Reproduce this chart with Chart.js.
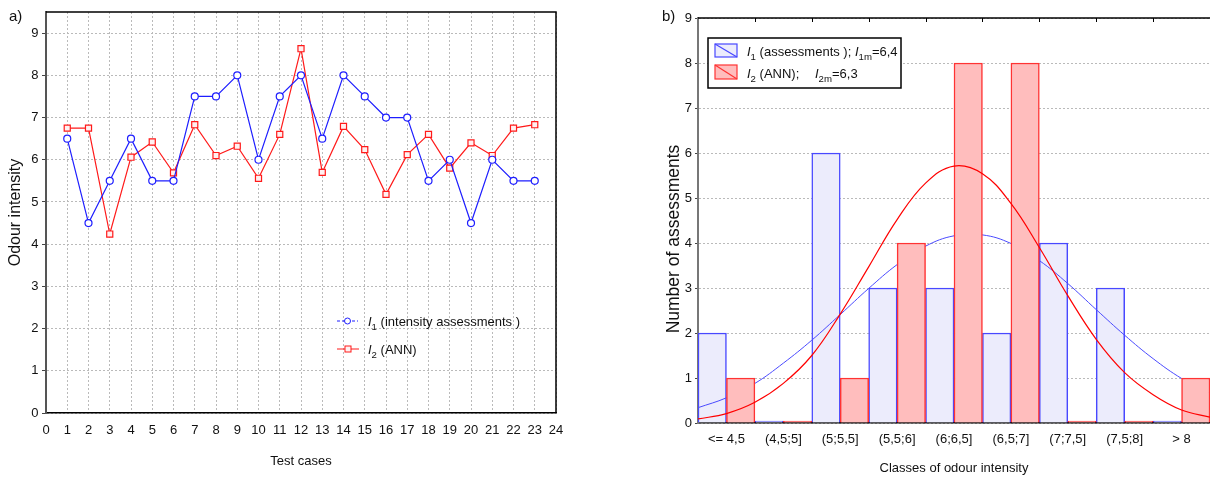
<!DOCTYPE html>
<html><head><meta charset="utf-8">
<script src="https://cdn.jsdelivr.net/npm/chart.js@4.4.1/dist/chart.umd.min.js"></script>
<style>
html,body{margin:0;padding:0;background:#fff;overflow:hidden;}
#wrap{position:relative;width:1210px;height:480px;background:#fff;}
#c1{position:absolute;left:0;top:0;}
#c2{position:absolute;left:600px;top:0;}
</style></head><body>
<div id="wrap"><canvas id="c1" width="600" height="480"></canvas><canvas id="c2" width="610" height="480"></canvas></div>
<script>
// ---------- data: panel a) ----------
const TEST_CASES = [1,2,3,4,5,6,7,8,9,10,11,12,13,14,15,16,17,18,19,20,21,22,23];
const I1_VALUES = [6.5,4.5,5.5,6.5,5.5,5.5,7.5,7.5,8,6,7.5,8,6.5,8,7.5,7,7,5.5,6,4.5,6,5.5,5.5];
const I2_VALUES = [6.75,6.75,4.24,6.06,6.42,5.69,6.83,6.1,6.32,5.56,6.6,8.63,5.7,6.79,6.24,5.18,6.12,6.6,5.8,6.4,6.1,6.75,6.83];
// ---------- data: panel b) ----------
const CLASSES = ['<= 4,5','(4,5;5]','(5;5,5]','(5,5;6]','(6;6,5]','(6,5;7]','(7;7,5]','(7,5;8]','> 8'];
const I1_COUNTS = [2,0,6,3,3,2,4,3,0];
const I2_COUNTS = [1,0,1,4,8,8,0,0,1];
const CURVE_X = [4,4.25,4.5,4.75,5,5.25,5.5,5.75,6,6.25,6.5,6.75,7,7.25,7.5,7.75,8,8.25,8.5];
const I1_FIT = [0.34,0.56,0.88,1.33,1.84,2.41,2.99,3.52,3.93,4.16,4.18,3.99,3.61,3.10,2.52,1.95,1.43,0.99,0.66];
const I2_FIT = [0.09,0.21,0.46,0.88,1.50,2.42,3.47,4.52,5.33,5.71,5.54,4.88,3.90,2.83,1.86,1.12,0.63,0.29,0.13];
const I1_MEAN = '6,4';
const I2_MEAN = '6,3';

const FONT = "'Liberation Sans', Arial, sans-serif";
Chart.defaults.font.family = FONT;
Chart.defaults.color = '#111';
const GRID = '#bababa';
const BLUE = '#1e1eff', RED = '#ff1a1a';

function drawRich(ctx, x, y, parts, size) {
  ctx.save();
  ctx.textBaseline = 'alphabetic'; ctx.textAlign = 'left'; ctx.fillStyle = '#111';
  for (const p of parts) {
    const s = p.sub ? size * 0.74 : size;
    ctx.font = (p.i ? 'italic ' : '') + s + 'px ' + FONT;
    ctx.fillText(p.t, x, y + (p.sub ? size * 0.32 : 0));
    x += ctx.measureText(p.t).width;
  }
  ctx.restore();
  return x;
}

// ---------- panel a) ----------
const frameA = {
  id: 'frameA',
  afterDraw(chart) {
    const {ctx, chartArea: a} = chart;
    ctx.save();
    ctx.strokeStyle = '#000'; ctx.lineWidth = 1.5;
    ctx.beginPath();
    ctx.moveTo(a.left, a.top); ctx.lineTo(a.right, a.top); ctx.lineTo(a.right, a.bottom);
    ctx.stroke();
    // panel label
    ctx.font = '15px ' + FONT; ctx.fillStyle = '#111'; ctx.textBaseline = 'alphabetic';
    ctx.fillText('a)', 9, 21);
    // legend
    const y1 = 321, y2 = 349;
    ctx.lineWidth = 1;
    ctx.strokeStyle = BLUE; ctx.setLineDash([3, 2]);
    ctx.beginPath(); ctx.moveTo(337, y1); ctx.lineTo(358, y1); ctx.stroke();
    ctx.setLineDash([]);
    ctx.fillStyle = '#fff';
    ctx.beginPath(); ctx.arc(347.5, y1, 3, 0, Math.PI * 2); ctx.fill(); ctx.stroke();
    ctx.strokeStyle = RED;
    ctx.beginPath(); ctx.moveTo(337, y2); ctx.lineTo(359, y2); ctx.stroke();
    ctx.fillStyle = '#fff0f0';
    ctx.fillRect(345, y2 - 3, 6, 6); ctx.strokeRect(345, y2 - 3, 6, 6);
    ctx.restore();
    drawRich(ctx, 368, y1 + 4.5, [{t: 'I', i: 1}, {t: '1', sub: 1}, {t: ' (intensity assessments )'}], 13);
    drawRich(ctx, 368, y2 + 4.5, [{t: 'I', i: 1}, {t: '2', sub: 1}, {t: ' (ANN)'}], 13);
  }
};

new Chart(document.getElementById('c1'), {
  type: 'line',
  data: {
    datasets: [
      {label: 'I1 (intensity assessments )', data: TEST_CASES.map((x, i) => ({x, y: I1_VALUES[i]})),
       borderColor: BLUE, borderWidth: 1.2, pointStyle: 'circle', pointRadius: 3.5,
       pointBackgroundColor: '#fff', pointBorderColor: BLUE, pointBorderWidth: 1.2, tension: 0},
      {label: 'I2 (ANN)', data: TEST_CASES.map((x, i) => ({x, y: I2_VALUES[i]})),
       borderColor: RED, borderWidth: 1.2, pointStyle: 'rect', pointRadius: 4.3,
       pointBackgroundColor: '#fff0f0', pointBorderColor: RED, pointBorderWidth: 1.2, tension: 0}
    ]
  },
  options: {
    responsive: false, animation: false, devicePixelRatio: 1,
    layout: {padding: {top: 12, right: 44, left: 0, bottom: 0}},
    plugins: {legend: {display: false}, tooltip: {enabled: false}},
    scales: {
      x: {type: 'linear', min: 0, max: 24,
          afterFit(s) { s.height = 67; },
          ticks: {stepSize: 1, autoSkip: false, maxRotation: 0, padding: 10, font: {size: 13}},
          grid: {color: GRID, drawTicks: false},
          border: {color: '#000', width: 1.5, dash: [2, 2]},
          title: {display: true, text: 'Test cases', font: {size: 13}, padding: {top: 0, bottom: 11}}},
      y: {min: 0, max: 9.5,
          afterFit(s) { s.width = 46; },
          ticks: {stepSize: 1, includeBounds: false, padding: 3.5, font: {size: 13}},
          grid: {color: GRID, tickColor: '#444', tickLength: 4},
          border: {color: '#555', width: 2, dash: [2, 2]},
          title: {display: true, text: 'Odour intensity', font: {size: 16}, padding: {top: 6, bottom: 0}}}
    }
  },
  plugins: [frameA]
});

// ---------- panel b) ----------
const layerB = {
  id: 'layerB',
  beforeDatasetDraw() { return false; },
  afterDatasetsDraw(chart) {
    const {ctx, chartArea: a} = chart;
    for (const i of [0, 2, 1, 3]) {
      ctx.save();
      ctx.beginPath(); ctx.rect(a.left, a.top, a.right - a.left, a.bottom - a.top + 1); ctx.clip();
      chart.getDatasetMeta(i).controller.draw();
      ctx.restore();
    }
  }
};
const frameB = {
  id: 'frameB',
  afterDraw(chart) {
    const {ctx, chartArea: a} = chart;
    const xs = chart.scales.x;
    const half = (xs.getPixelForValue(1) - xs.getPixelForValue(0)) / 2;
    ctx.save();
    ctx.strokeStyle = '#000'; ctx.lineWidth = 1.5;
    ctx.beginPath(); ctx.moveTo(a.left, a.top); ctx.lineTo(a.right, a.top); ctx.stroke();
    ctx.lineWidth = 1;
    ctx.beginPath();
    for (let i = 0; i < CLASSES.length - 1; i++) {
      const px = Math.round(xs.getPixelForValue(i) + half) + 0.5;
      ctx.moveTo(px, a.top); ctx.lineTo(px, a.top + 4);
    }
    ctx.stroke();
    // panel label
    ctx.font = '15px ' + FONT; ctx.fillStyle = '#111'; ctx.textBaseline = 'alphabetic';
    ctx.fillText('b)', 62, 21);
    // y axis title
    ctx.save();
    ctx.translate(74, 239); ctx.rotate(-Math.PI / 2);
    ctx.font = '17.5px ' + FONT; ctx.textAlign = 'center'; ctx.textBaseline = 'middle';
    ctx.fillText('Number of assessments', 0, 0);
    ctx.restore();
    // legend box
    ctx.fillStyle = '#fff'; ctx.fillRect(108, 38, 193, 50);
    ctx.lineWidth = 1.5; ctx.strokeStyle = '#000'; ctx.strokeRect(108, 38, 193, 50);
    // swatches
    ctx.lineWidth = 1.2;
    ctx.fillStyle = '#ececfc'; ctx.strokeStyle = '#4848ff';
    ctx.fillRect(115, 44, 22, 13); ctx.strokeRect(115, 44, 22, 13);
    ctx.beginPath(); ctx.moveTo(115, 44); ctx.lineTo(137, 57); ctx.stroke();
    ctx.fillStyle = '#ffbdbd'; ctx.strokeStyle = '#ff3333';
    ctx.fillRect(115, 65, 22, 14); ctx.strokeRect(115, 65, 22, 14);
    ctx.beginPath(); ctx.moveTo(115, 65); ctx.lineTo(137, 79); ctx.stroke();
    ctx.restore();
    drawRich(ctx, 147, 55.5, [{t: 'I', i: 1}, {t: '1', sub: 1}, {t: ' (assessments ); '},
                              {t: 'I', i: 1}, {t: '1m', sub: 1}, {t: '=' + I1_MEAN}], 13);
    drawRich(ctx, 147, 77.5, [{t: 'I', i: 1}, {t: '2', sub: 1}, {t: ' (ANN);'}], 13);
    drawRich(ctx, 215, 77.5, [{t: 'I', i: 1}, {t: '2m', sub: 1}, {t: '=' + I2_MEAN}], 13);
  }
};

// chart-level indexAxis 'y' only keeps the bar grouping from counting the curves' x2 axis;
// every dataset is explicitly vertical (indexAxis 'x').
new Chart(document.getElementById('c2'), {
  type: 'bar',
  data: {
    labels: CLASSES,
    datasets: [
      {label: 'I1', indexAxis: 'x', xAxisID: 'x', yAxisID: 'y', data: I1_COUNTS, backgroundColor: '#ececfc', borderColor: '#4848ff', borderWidth: 1.5,
       minBarLength: 2, barPercentage: 1, categoryPercentage: 1},
      {label: 'I2', indexAxis: 'x', xAxisID: 'x', yAxisID: 'y', data: I2_COUNTS, backgroundColor: '#ffbdbd', borderColor: '#ff3333', borderWidth: 1.5,
       minBarLength: 2, barPercentage: 1, categoryPercentage: 1},
      {type: 'line', indexAxis: 'x', label: 'I1 fit', xAxisID: 'x2', yAxisID: 'y', data: CURVE_X.map((x, i) => ({x, y: I1_FIT[i]})),
       borderColor: '#4a4aff', borderWidth: 1, pointRadius: 0, tension: 0.4, fill: false},
      {type: 'line', indexAxis: 'x', label: 'I2 fit', xAxisID: 'x2', yAxisID: 'y', data: CURVE_X.map((x, i) => ({x, y: I2_FIT[i]})),
       borderColor: '#ff0000', borderWidth: 1.2, pointRadius: 0, tension: 0.4, fill: false}
    ]
  },
  options: {
    indexAxis: 'y',
    responsive: false, animation: false, devicePixelRatio: 1,
    layout: {padding: {top: 18, right: 0, left: 0, bottom: 0}},
    plugins: {legend: {display: false}, tooltip: {enabled: false}},
    scales: {
      x: {type: 'category', offset: true, position: 'bottom',
          afterFit(s) { s.height = 57; },
          ticks: {autoSkip: false, maxRotation: 0, padding: 9, font: {size: 13}},
          grid: {display: false, drawTicks: false, offset: true},
          border: {display: true, color: '#000', width: 1.5},
          title: {display: true, text: 'Classes of odour intensity', font: {size: 13}, padding: {top: 0, bottom: 4}}},
      x2: {type: 'linear', display: false, offset: false, min: 4, max: 8.5, grid: {offset: false}},
      y: {type: 'linear', position: 'left', offset: false, min: 0, max: 9, beginAtZero: true,
          afterFit(s) { s.width = 98; },
          ticks: {stepSize: 1, padding: 3, font: {size: 13}},
          grid: {color: GRID, tickColor: '#444', tickLength: 3, offset: false},
          border: {color: '#777', width: 2, dash: [2, 2]},
          title: {display: false}}
    }
  },
  plugins: [layerB, frameB]
});
</script>
</body></html>
